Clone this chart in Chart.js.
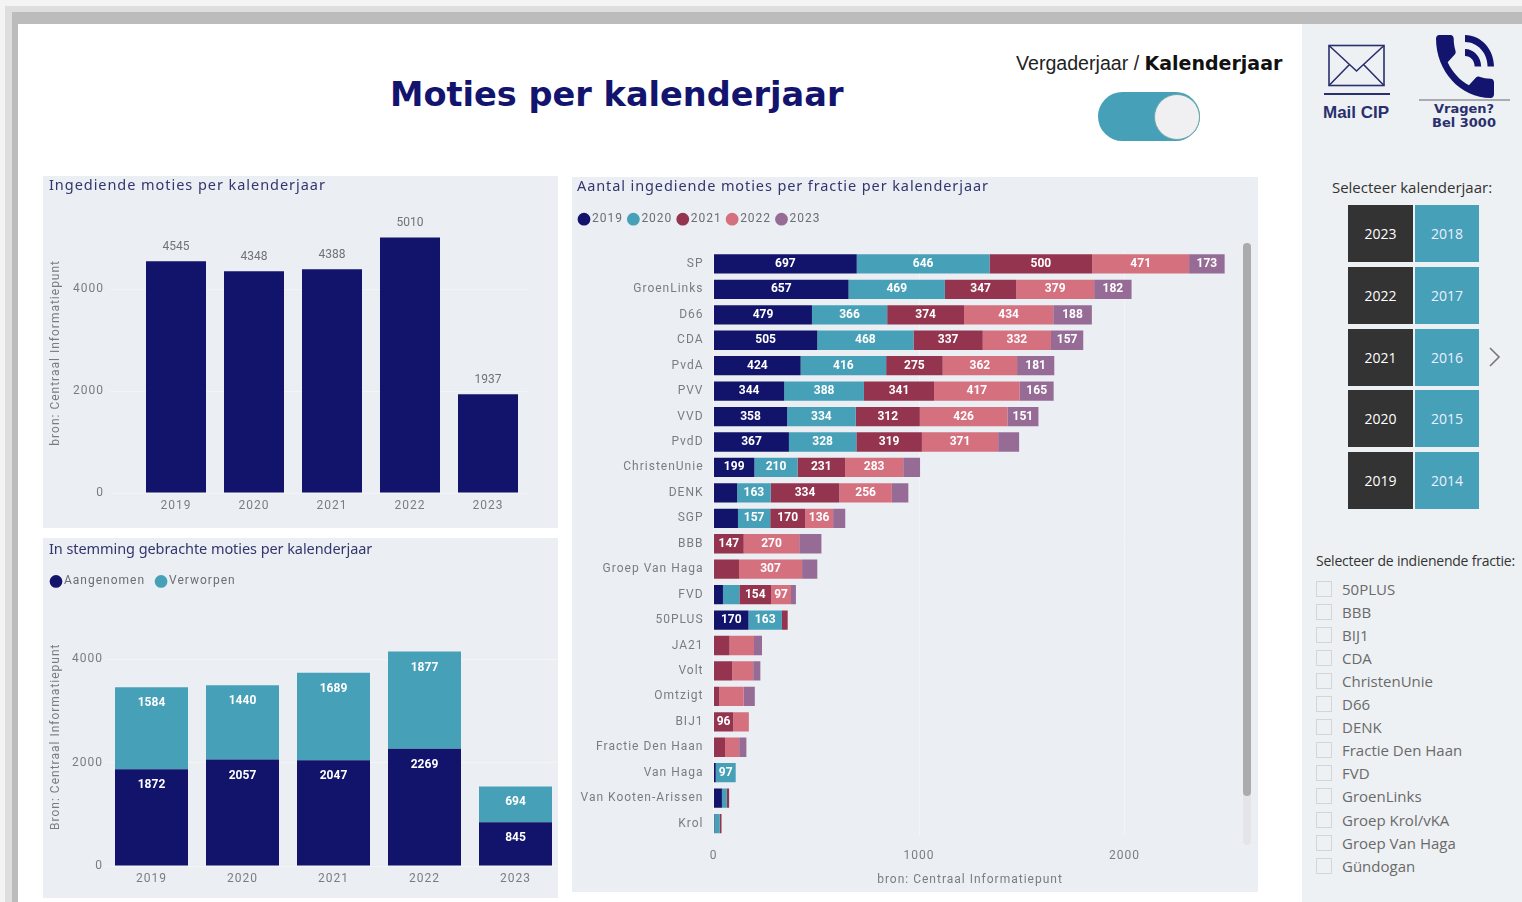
<!DOCTYPE html>
<html lang="nl"><head><meta charset="utf-8"><title>Moties per kalenderjaar</title>
<script src="https://cdn.jsdelivr.net/npm/chart.js@4/dist/chart.umd.js"></script>
<style>
html,body{margin:0;padding:0;width:1522px;height:902px;overflow:hidden;background:#f6f6f6;font-family:"Noto Sans",sans-serif}
.a{position:absolute}
canvas{position:absolute;display:block}
.panel{position:absolute;background:#ebeef2}
.t{position:absolute;white-space:nowrap;line-height:1}
.tile{position:absolute;color:#fff;font:14px "Open Sans",sans-serif;display:flex;align-items:center;justify-content:center}
.chk{position:absolute;left:1316px;width:14px;height:14px;border:1.5px solid #d3d5d8;box-sizing:content-box;background:#eef1f4}
.item{position:absolute;left:1342px;color:#6a6a6a;font:15px "Open Sans",sans-serif;line-height:1;white-space:nowrap}
</style></head><body>
<div class="a" style="left:0;top:0;width:1522px;height:902px;background:#f4f4f4"></div>
<div class="a" style="left:5px;top:6px;width:1517px;height:896px;background:#dedede"></div>
<div class="a" style="left:12px;top:12px;width:1510px;height:890px;background:#bcbcbc"></div>
<div class="a" style="left:18px;top:24px;width:1504px;height:878px;background:#fff"></div>
<div class="a" style="left:1302px;top:24px;width:220px;height:878px;background:#eef1f4"></div>
<div class="t" style="left:390px;top:75px;font:bold 33.6px 'DejaVu Sans',sans-serif;color:#12146e">Moties per kalenderjaar</div>
<div class="t" style="left:1016px;top:52px;font:19.6px 'Liberation Sans',sans-serif;color:#222">Vergaderjaar / <b style="font:bold 19px 'DejaVu Sans',sans-serif;color:#111">Kalenderjaar</b></div>
<div class="a" style="left:1098px;top:92px;width:102px;height:49px;border-radius:25px;background:#45a0b8"></div>
<div class="a" style="left:1153.5px;top:93.5px;width:44px;height:44px;border-radius:50%;background:#f0f0f2;border:1px solid #6fa9a8"></div>
<svg class="a" style="left:1328px;top:44px" width="58" height="44" viewBox="0 0 58 44" fill="none" stroke="#2a2f6e" stroke-width="1.6"><rect x="1" y="1.5" width="55" height="40"/><path d="M1 1.5 L28.5 27 L56 1.5 M1 41.5 L21 21 M56 41.5 L36 21"/></svg>
<div class="a" style="left:1324px;top:93px;width:66px;height:2px;background:#2a2f6e"></div>
<div class="t" style="left:1323px;top:103px;font:bold 17px 'Liberation Sans',sans-serif;color:#2a2f6e">Mail CIP</div>
<svg class="a" style="left:1436px;top:35px" width="58" height="63" viewBox="3 3 18 18" preserveAspectRatio="none" fill="#12146e"><path d="M20 15.5c-1.25 0-2.45-.2-3.57-.57-.35-.11-.74-.03-1.02.24l-2.2 2.2c-2.83-1.44-5.15-3.75-6.59-6.59l2.2-2.21c.28-.26.36-.65.25-1C8.7 6.45 8.5 5.25 8.5 4c0-.55-.45-1-1-1H4c-.55 0-1 .45-1 1 0 9.39 7.61 17 17 17 .55 0 1-.45 1-1v-3.5c0-.55-.45-1-1-1z"/><path d="M19 12h2c0-4.97-4.03-9-9-9v2c3.87 0 7 3.13 7 7zm-4 0h2c0-2.76-2.24-5-5-5v2c1.66 0 3 1.34 3 3z"/></svg>
<div class="a" style="left:1419px;top:99px;width:91px;height:2px;background:#a9abb0"></div>
<div class="t" style="left:1419px;width:90px;text-align:center;top:101px;font:bold 13px 'DejaVu Sans',sans-serif;color:#2a2f6e">Vragen?</div>
<div class="t" style="left:1419px;width:90px;text-align:center;top:115px;font:bold 13px 'DejaVu Sans',sans-serif;color:#2a2f6e">Bel 3000</div>
<div class="t" style="left:1302px;width:220px;text-align:center;top:177px;font:15px 'Open Sans',sans-serif;color:#333">Selecteer kalenderjaar:</div>

<div class="panel" style="left:43px;top:176px;width:515px;height:352px"></div>
<div class="panel" style="left:43px;top:538px;width:515px;height:360px"></div>
<div class="panel" style="left:572px;top:177px;width:686px;height:715px"></div>
<div class="a" style="left:1243px;top:243px;width:8px;height:602px;border-radius:4px;background:#e3e5e8"></div>
<div class="a" style="left:1243px;top:243px;width:8px;height:553px;border-radius:4px;background:#a9abad"></div>

<canvas id="c1" width="515" height="352" style="left:43px;top:176px"></canvas>
<canvas id="c2" width="518" height="360" style="left:43px;top:538px"></canvas>
<canvas id="c3" width="686" height="715" style="left:572px;top:177px"></canvas>

<div id="slicers"></div>
<svg class="a" style="left:1487px;top:347px" width="14" height="20" fill="none" stroke="#777" stroke-width="1.6"><path d="M3 1 L12 10 L3 19"/></svg>
<div class="t" style="left:1316px;top:551px;font:14px 'Open Sans',sans-serif;letter-spacing:-.22px;color:#333">Selecteer de indienende fractie:</div>
<div id="list"></div>

<script>
// Totals per year
const years = ['2019','2020','2021','2022','2023'];
const ingediend = [4545,4348,4388,5010,1937];
// Votes
const aangenomen = [1872,2057,2047,2269,845];
const verworpen = [1584,1440,1689,1877,694];
// Per party
const fracties = ['SP','GroenLinks','D66','CDA','PvdA','PVV','VVD','PvdD','ChristenUnie','DENK','SGP','BBB','Groep Van Haga','FVD','50PLUS','JA21','Volt','Omtzigt','BIJ1','Fractie Den Haan','Van Haga','Van Kooten-Arissen','Krol'];
const f2019 = [697,657,479,505,424,344,358,367,199,115,119,0,0,46,170,0,0,0,0,0,11,41,4];
const f2020 = [646,469,366,468,416,388,334,328,210,163,157,0,0,80,163,0,0,0,0,0,97,24,26];
const f2021 = [500,347,374,337,275,341,312,319,231,334,170,147,124,154,28,78,91,28,96,56,0,11,9];
const f2022 = [471,379,434,332,362,417,426,371,283,256,136,270,307,97,0,119,102,119,76,69,0,0,0];
const f2023 = [173,182,188,157,181,165,151,102,82,80,59,108,74,24,0,39,35,54,0,35,0,0,0];
// Segments the reference leaves without a label, by party
const noLabel2019 = ['DENK','SGP','FVD','Van Haga','Van Kooten-Arissen','Krol'];
const noLabel2020 = ['FVD','Van Kooten-Arissen','Krol'];
const noLabel2021 = ['Groep Van Haga','50PLUS','JA21','Volt','Omtzigt','Fractie Den Haan','Van Kooten-Arissen','Krol'];
const noLabel2022 = ['JA21','Volt','Omtzigt','BIJ1','Fractie Den Haan'];
const noLabel2023 = ['PvdD','ChristenUnie','DENK','SGP','BBB','Groep Van Haga','FVD','JA21','Volt','Omtzigt','Fractie Den Haan'];
// Axis ticks
const countTicks = [0,2000,4000];
const fractieTicks = [0,1000,2000];
// Side panel
const sliceLeft = ['2023','2022','2021','2020','2019'];
const sliceRight = ['2018','2017','2016','2015','2014'];
const fractieLijst = ['50PLUS','BBB','BIJ1','CDA','ChristenUnie','D66','DENK','Fractie Den Haan','FVD','GroenLinks','Groep Krol/vKA','Groep Van Haga','Gündogan'];

const NAVY='#12146b',TEAL='#46a0b8',MAROON='#94344f',PINK='#d5707f',PURPLE='#966c97';
const TICK='#7a7d80',GRID='rgba(255,255,255,.35)';
const tickFont={family:'Roboto',size:12};

// side panel
const rowsY=[205,267,329,390,452];
let h='';
sliceLeft.forEach((y,i)=>{h+=`<div class="tile" style="left:1348px;top:${rowsY[i]}px;width:65px;height:57px;background:#333">${y}</div>`;
 h+=`<div class="tile" style="left:1415px;top:${rowsY[i]}px;width:64px;height:57px;background:#45a0b8;color:#eef">${sliceRight[i]}</div>`;});
document.getElementById('slicers').innerHTML=h;
h='';
fractieLijst.forEach((n,i)=>{const y=581+i*23.05;h+=`<div class="chk" style="top:${y}px"></div><div class="item" style="top:${y+1}px">${n}</div>`;});
document.getElementById('list').innerHTML=h;

// letter spacing of the text, fixed legend gap and legend offset
const spacing={id:'spacing',
 beforeInit(c,a,o){const t=c.titleBlock;if(!t)return;const d=t.draw;t.draw=function(){const x=c.ctx;x.save();x.letterSpacing=(o.title||0)+'px';d.call(t);x.restore();};},
 beforeDraw(c,a,o){c.ctx.letterSpacing=(o.px||0)+'px';}};
const legendGap={id:'legendGap',
 beforeInit(c,a,o){if(!c.legend)return;const f=c.legend.fit;c.legend.fit=function(){f.call(c.legend);this.height+=o.gap||0;};},
 afterLayout(c,a,o){if(c.legend&&o.dx)c.legend.left-=o.dx;}};
// value labels
const valueLabels={id:'valueLabels',afterDatasetsDraw(c,a,o){
 const ctx=c.ctx;ctx.save();ctx.letterSpacing='0px';ctx.textAlign='center';ctx.textBaseline='middle';
 c.data.datasets.forEach((ds,di)=>{c.getDatasetMeta(di).data.forEach((el,i)=>{
  const v=ds.data[i];if(!v)return;
  if(ds.noLabel&&ds.noLabel.includes(c.data.labels[i]))return;
  const p=el.getProps(['x','y','base'],true);
  ctx.font=o.font;ctx.fillStyle=o.color;
  if(o.mode==='outside')ctx.fillText(v,p.x,p.y-o.off);
  else if(o.mode==='inside')ctx.fillText(v,p.x,p.y+o.off);
  else ctx.fillText(v,(p.x+p.base)/2,p.y);
 });});ctx.restore();}};
Chart.register(spacing,legendGap,valueLabels);
Chart.defaults.animation=false;Chart.defaults.responsive=false;

function titleOpt(text,font,top,bottom){return{display:true,text,align:'start',color:'#33366e',font,padding:{top,bottom}};}
function legendOpt(font,padding){return{display:true,position:'top',align:'start',labels:{usePointStyle:true,boxWidth:4,boxHeight:9,color:'#6b6e72',font,padding,
  generateLabels(c){return c.data.datasets.map((d,i)=>({text:d.label,fillStyle:d.backgroundColor,strokeStyle:d.backgroundColor,lineWidth:0,pointStyle:'circle',datasetIndex:i,fontColor:'#6b6e72'}));}}};}
function setTicks(list){return s=>{s.ticks=list.map(value=>({value}));};}
function yVert(max,title,w,tickLen,pad){return{stacked:true,min:0,max,afterFit(s){s.width=w;},afterBuildTicks:setTicks(countTicks),
  grid:{color:GRID,drawTicks:tickLen>0,tickLength:tickLen,tickColor:GRID},border:{display:false},
  ticks:{color:TICK,font:tickFont,padding:pad,callback:v=>v},
  title:{display:true,text:title,color:TICK,font:{family:'Roboto',size:12},padding:{top:0,bottom:0}}};}
function xCat(h,pad){return{stacked:true,afterFit(s){s.height=h;},grid:{display:false,drawTicks:false},border:{display:false},ticks:{color:TICK,font:tickFont,padding:pad}};}
const titleFont={family:'Noto Sans',size:14.5,weight:'normal',lineHeight:1.2};

new Chart(document.getElementById('c1'),{type:'bar',
 data:{labels:years,datasets:[{label:'Ingediend',data:ingediend,backgroundColor:NAVY,barPercentage:60/78,categoryPercentage:1}]},
 options:{layout:{padding:{left:6,right:31,top:0,bottom:0}},
  plugins:{legend:{display:false},tooltip:{enabled:false},spacing:{px:1,title:.95},
   title:titleOpt('Ingediende moties per kalenderjaar',titleFont,1,18.2),
   valueLabels:{mode:'outside',off:14.5,font:'12px Roboto',color:'#6f7276'}},
  scales:{x:xCat(35,6),y:yVert(5500,'bron: Centraal Informatiepunt',88,27,6)}}});

new Chart(document.getElementById('c2'),{type:'bar',
 data:{labels:years,datasets:[
  {label:'Aangenomen',data:aangenomen,backgroundColor:NAVY,barPercentage:73/91,categoryPercentage:1},
  {label:'Verworpen',data:verworpen,backgroundColor:TEAL,barPercentage:73/91,categoryPercentage:1}]},
 options:{layout:{padding:{left:6,right:0,top:0,bottom:0}},
  plugins:{tooltip:{enabled:false},spacing:{px:1,title:-.07},legendGap:{gap:10,dx:9},
   title:titleOpt('In stemming gebrachte moties per kalenderjaar',titleFont,3,3),
   legend:legendOpt({family:'Roboto',size:12},14),
   valueLabels:{mode:'inside',off:16,font:'bold 12px Roboto',color:'#fff'}},
  scales:{x:xCat(32,6),y:yVert(5000,'Bron: Centraal Informatiepunt',57,0,3)}}});

const ser=[['2019',f2019,NAVY,noLabel2019],['2020',f2020,TEAL,noLabel2020],['2021',f2021,MAROON,noLabel2021],['2022',f2022,PINK,noLabel2022],['2023',f2023,PURPLE,noLabel2023]];
new Chart(document.getElementById('c3'),{type:'bar',
 data:{labels:fracties,datasets:ser.map(s=>({label:s[0],data:s[1],backgroundColor:s[2],noLabel:s[3],barPercentage:.76,categoryPercentage:1}))},
 options:{indexAxis:'y',layout:{padding:{left:5,right:31.5,top:0,bottom:0}},
  plugins:{tooltip:{enabled:false},spacing:{px:1,title:.9},legendGap:{gap:16,dx:3.4},
   title:titleOpt('Aantal ingediende moties per fractie per kalenderjaar',titleFont,1,9.4),
   legend:legendOpt({family:'Roboto',size:12},8.4),
   valueLabels:{mode:'center',font:'bold 12px Roboto',color:'#fff'}},
  scales:{
   y:{stacked:true,afterFit(s){s.width=136.5;},grid:{display:false,drawTicks:false},border:{display:false},ticks:{color:TICK,font:tickFont,padding:10,autoSkip:false}},
   x:{stacked:true,min:0,max:2496,afterFit(s){s.height=55.7;},afterBuildTicks:setTicks(fractieTicks),grid:{color:GRID,drawTicks:false},border:{display:false},
      ticks:{color:TICK,font:tickFont,padding:12,callback:v=>v},
      title:{display:true,text:'bron: Centraal Informatiepunt',color:TICK,font:{family:'Roboto',size:12},padding:{top:2,bottom:5}}}}}});
</script>
</body></html>
